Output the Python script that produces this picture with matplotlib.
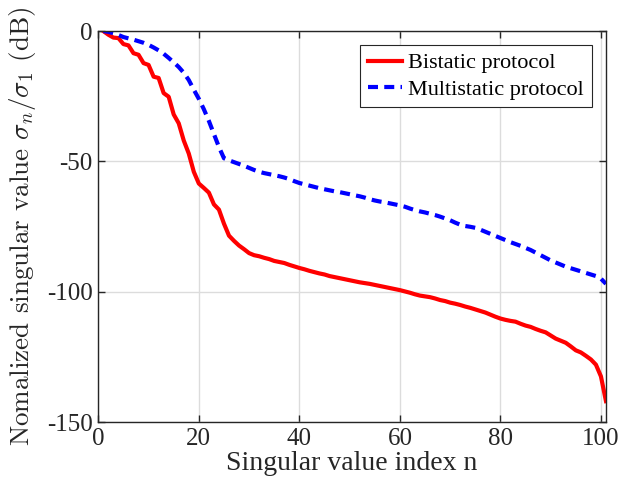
import numpy as np
import matplotlib
matplotlib.use("Agg")
import matplotlib.pyplot as plt

# singular value index
n = np.arange(1, 102)

# normalized singular values in dB
bistatic = [
    0, -1.4, -2.5, -2.7, -5, -5.5, -8.5, -9.1, -12.3, -13,
    -17.5, -18, -23.8, -25.2, -32, -35.4, -42, -47, -54, -58.5,
    -60.2, -62, -66.5, -68.5, -73.9, -78.5, -80.5, -82.3, -83.7, -85.2,
    -86, -86.4, -87, -87.5, -88.2, -88.6, -89, -89.7, -90.3, -90.9,
    -91.4, -92, -92.5, -93, -93.4, -94, -94.4, -94.8, -95.2, -95.6,
    -96, -96.4, -96.7, -97, -97.4, -97.8, -98.2, -98.6, -99, -99.4,
    -99.9, -100.4, -101, -101.5, -101.8, -102.1, -102.6, -103.2, -103.6, -104.2,
    -104.6, -105.1, -105.7, -106.2, -106.8, -107.4, -108, -108.8, -109.6, -110.3,
    -110.8, -111.2, -111.5, -112.3, -113, -113.5, -114.3, -115, -115.6, -116.8,
    -118, -118.8, -119.6, -121, -122.5, -123.3, -124.6, -126, -128, -132.5,
    -142,
]
multistatic = [
    0, -0.3, -0.8, -1.5, -2.3, -2.8, -3.3, -3.9, -4.5, -5.3,
    -6.3, -7.4, -8.7, -10.3, -12, -13.8, -16, -18.8, -22.5, -26,
    -30, -34.5, -39.5, -44.5, -48.8, -49.6, -50.3, -51, -51.7, -52.5,
    -53.3, -54, -54.5, -54.9, -55.3, -55.7, -56.2, -56.8, -57.6, -58.3,
    -58.8, -59.3, -59.8, -60.3, -60.7, -61.1, -61.5, -61.8, -62.2, -62.6,
    -63, -63.4, -63.9, -64.5, -65, -65.4, -65.7, -66.1, -66.5, -66.9,
    -67.4, -68.1, -68.7, -69.2, -69.6, -70.1, -70.6, -71.2, -71.9, -72.6,
    -73.5, -74.3, -74.8, -75.1, -75.5, -76.2, -77, -77.8, -78.6, -79.4,
    -80.2, -81, -81.7, -82.4, -83.2, -84, -85, -86, -87, -88,
    -88.8, -89.6, -90.4, -91, -91.6, -92.2, -92.8, -93.4, -94, -95,
    -97,
]

plt.rcParams["font.family"] = ["Liberation Serif", "DejaVu Serif"]
plt.rcParams["mathtext.fontset"] = "cm"
plt.rcParams["axes.unicode_minus"] = False

fig = plt.figure(figsize=(6.21, 4.93), dpi=100)
ax = fig.add_axes([0.1583, 0.144, 0.8175, 0.793])

ax.plot(n, bistatic, color="#ff0000", lw=3, label="Bistatic protocol")
ax.plot(n, multistatic, color="#0000ff", lw=3, dashes=(2.4, 1.5),
        label="Multistatic protocol")

ax.set_xlim(0, 101)
ax.set_ylim(-150, 0)
ax.set_xticks([0, 20, 40, 60, 80, 100])
ax.set_yticks([-150, -100, -50, 0])
ax.grid(True, color="#dcdcdc", lw=1)
ax.set_axisbelow(True)

ax.tick_params(direction="in", top=True, right=True, length=5, width=1,
               labelsize=18, colors="#262626", pad=4)
for s in ax.spines.values():
    s.set_color("#262626")
    s.set_linewidth(1)

ax.set_xlabel("Singular value index n", fontsize=20, color="#262626", labelpad=1)
# y label set in Computer Modern, like a LaTeX-rendered label
ax.set_ylabel(r"Nomalized singular value $\sigma_n/\sigma_1$ (dB)",
              fontsize=19.5, color="#262626", family="cmr10")
ax.yaxis.set_label_coords(-0.118, 0.5)

leg = ax.legend(loc="upper right", fontsize=16, fancybox=False,
                edgecolor="#262626", framealpha=1, handlelength=1.5,
                handletextpad=0.3, borderpad=0.35, labelspacing=0.25,
                borderaxespad=0, bbox_to_anchor=(0.972, 0.964))
leg.get_frame().set_linewidth(0.8)

fig.savefig("out.png", dpi=100)
